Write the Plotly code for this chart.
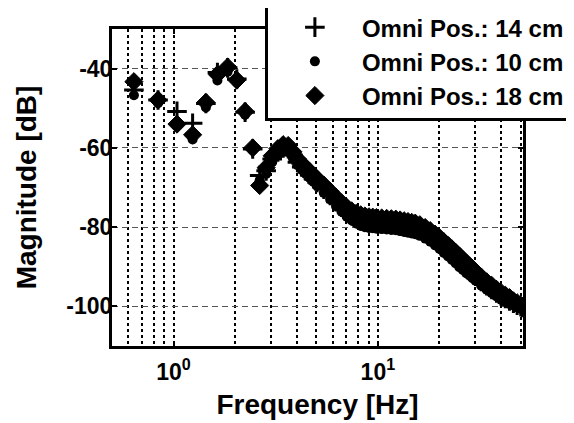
import math
import plotly.graph_objects as go

# Frequencies [Hz]
freq = [0.64, 0.84, 1.04, 1.24, 1.44, 1.64, 1.84, 2.04, 2.24, 2.44, 2.64,
        2.84, 3.04, 3.24, 3.44, 3.64, 3.84, 4.04, 4.24, 4.44, 4.64, 4.84,
        5.04, 5.44, 5.84, 6.24, 6.64, 7.04, 7.44, 7.84, 8.24, 8.64, 9.04,
        9.44, 9.84, 10.44, 11.04, 11.64, 12.24, 12.84, 13.44, 14.04, 14.64,
        15.24, 16.04, 17.04, 18.04, 19.04, 20.04, 21.04, 22.04, 23.04, 24.04,
        25.04, 26.04, 27.04, 28.04, 29.04, 30.04, 32.04, 34.04, 36.04, 38.04,
        40.04, 42.04, 44.04, 46.04, 48.04, 50.04, 51.04]

# Magnitude [dB] per omni position
mag_14cm = [-45.4, -47.9, -50.8, -53.8, -48.8, -41.0, -39.8, -42.6, -51.0, -60.3, -67.0,
            -65.8, -62.8, -61.0, -60.0, -60.2, -61.8, -63.6, -64.8, -65.8, -66.8, -67.8,
            -68.7, -70.4, -72.0, -73.6, -75.0, -76.2, -77.1, -77.8, -78.3, -78.6, -78.8,
            -78.9, -79.0, -79.1, -79.2, -79.3, -79.4, -79.6, -79.8, -80.0, -80.2,
            -80.4, -80.8, -81.5, -82.3, -83.2, -84.1, -85.1, -86.0, -86.9, -87.8,
            -88.7, -89.5, -90.3, -91.0, -91.7, -92.4, -93.7, -94.8, -95.7, -96.6,
            -97.4, -98.0, -98.6, -99.2, -99.7, -100.1, -100.3]

mag_10cm = [-46.7, -48.7, -54.5, -57.9, -49.8, -43.0, -40.8, -43.5, -51.6, -60.6, -68.2,
            -66.6, -63.6, -61.8, -60.8, -61.0, -62.6, -64.4, -65.6, -66.6, -67.6, -68.6,
            -69.6, -71.4, -73.0, -74.7, -76.1, -77.4, -78.3, -79.1, -79.7, -80.0, -80.2,
            -80.3, -80.4, -80.5, -80.6, -80.7, -80.8, -81.0, -81.2, -81.4, -81.6,
            -81.8, -82.2, -82.9, -83.7, -84.6, -85.5, -86.5, -87.4, -88.3, -89.2,
            -90.1, -90.8, -91.6, -92.2, -92.9, -93.5, -94.8, -95.8, -96.7, -97.5,
            -98.3, -98.8, -99.4, -99.8, -100.3, -100.5, -100.6]

mag_18cm = [-43.3, -47.9, -54.0, -56.7, -48.5, -41.5, -39.6, -42.9, -50.8, -60.0, -69.5,
            -65.0, -62.0, -60.2, -59.2, -59.4, -61.0, -62.8, -64.0, -65.0, -66.0, -67.0,
            -67.8, -69.4, -71.0, -72.5, -73.9, -75.0, -75.9, -76.5, -76.9, -77.2, -77.4,
            -77.5, -77.6, -77.7, -77.8, -77.9, -78.0, -78.2, -78.4, -78.6, -78.8,
            -79.0, -79.4, -80.1, -80.9, -81.8, -82.7, -83.7, -84.6, -85.5, -86.4,
            -87.3, -88.2, -89.0, -89.8, -90.5, -91.3, -92.6, -93.8, -94.7, -95.7,
            -96.5, -97.2, -97.8, -98.6, -99.1, -99.7, -100.0]

names = ["Omni Pos.: 14 cm", "Omni Pos.: 10 cm", "Omni Pos.: 18 cm"]

y_ticks = [-100, -80, -60, -40]
y_ticktext = ["-100", "-80", "-60", "-40"]
x_ticks = [1, 10]
x_ticktext = ["10<sup>0</sup>", "10<sup>1</sup>"]
x_minor = [0.6, 0.7, 0.8, 0.9, 2, 3, 4, 5, 6, 7, 8, 9, 20, 30, 40, 50]

fig = go.Figure()
fig.add_trace(go.Scatter(
    x=freq, y=mag_14cm, mode="markers", name=names[0],
    marker=dict(symbol="cross-thin", size=14, color="black",
                line=dict(width=3, color="black"))))
fig.add_trace(go.Scatter(
    x=freq, y=mag_10cm, mode="markers", name=names[1],
    marker=dict(symbol="circle", size=10, color="black",
                line=dict(width=0))))
fig.add_trace(go.Scatter(
    x=freq, y=mag_18cm, mode="markers", name=names[2],
    marker=dict(symbol="diamond", size=14, color="black",
                line=dict(width=1, color="black"))))

font = dict(family="Liberation Sans, Arial, sans-serif", size=23,
            color="black", weight="bold")
legend_font = dict(family="Liberation Sans, Arial, sans-serif", size=24,
                   color="black", weight="bold")

# the page body has an 8px margin; margins below compensate for it
fig.update_layout(
    width=574, height=423,
    margin=dict(l=104, r=59, t=21, b=85, autoexpand=False),
    paper_bgcolor="white", plot_bgcolor="white",
    font=font,
    showlegend=True,
    legend=dict(x=0.372, y=1.085, xanchor="left", yanchor="top",
                bgcolor="white", bordercolor="black", borderwidth=3,
                font=legend_font, indentation=0, itemwidth=84,
                tracegroupgap=0),
    xaxis=dict(
        type="log", range=[math.log10(0.5), math.log10(51.3)],
        tickmode="array", tickvals=x_ticks, ticktext=x_ticktext,
        ticks="inside", ticklen=5, tickwidth=1.5, tickcolor="black",
        ticklabelstandoff=3,
        showgrid=True, gridcolor="black", griddash="dot", gridwidth=2,
        minor=dict(tickmode="array", tickvals=x_minor, showgrid=True,
                   gridcolor="black", griddash="dot", gridwidth=2,
                   ticks=""),
        showline=True, linecolor="black", linewidth=3, mirror="ticks",
        zeroline=False, automargin=False,
        title=dict(text="Frequency [Hz]", standoff=11),
    ),
    yaxis=dict(
        range=[-110, -30],
        tickmode="array", tickvals=y_ticks, ticktext=y_ticktext,
        ticks="inside", ticklen=5, tickwidth=1.5, tickcolor="black",
        ticklabelstandoff=-8,
        showgrid=True, gridcolor="#555555", griddash="6px,4px", gridwidth=1,
        showline=True, linecolor="black", linewidth=3, mirror="ticks",
        zeroline=False, automargin=False,
        title=dict(text="Magnitude [dB]", standoff=22),
    ),
)

fig.write_html("out.html")
